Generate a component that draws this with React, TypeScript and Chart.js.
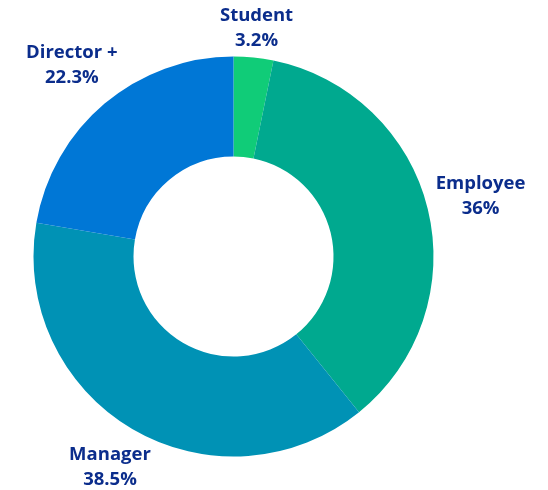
import React, { useEffect, useRef } from "react";
import { Chart, registerables } from "chart.js";

Chart.register(...registerables);

const categories = ["Student", "Employee", "Manager", "Director +"];
const values = [3.2, 36, 38.5, 22.3];
const valueLabels = ["3.2%", "36%", "38.5%", "22.3%"];
const colors = ["#10cc78", "#00a98f", "#0092b5", "#0077d6"];

const TEXT_COLOR = "#0b2d8c";
const FONT = "bold 18.5px 'Open Sans', sans-serif";
const LINE_H = 25;
const LABEL_OFFSET = 6;
const LABEL_HALF_H = 20;

const outsideLabels = {
  id: "outsideLabels",
  afterDatasetsDraw(chart: any) {
    const ctx = chart.ctx;
    const meta = chart.getDatasetMeta(0);
    ctx.save();
    ctx.font = FONT;
    ctx.fillStyle = TEXT_COLOR;
    ctx.textAlign = "center";
    ctx.textBaseline = "middle";
    meta.data.forEach((arc: any, i: number) => {
      const { x, y, startAngle, endAngle, outerRadius } = arc.getProps(
        ["x", "y", "startAngle", "endAngle", "outerRadius"],
        true
      );
      const mid = (startAngle + endAngle) / 2;
      const dx = Math.cos(mid);
      const dy = Math.sin(mid);
      const lines = [categories[i], valueLabels[i]];
      const w = Math.max(...lines.map((l) => ctx.measureText(l).width));
      const ext = Math.abs(dx) * (w / 2) + Math.abs(dy) * LABEL_HALF_H;
      const r = outerRadius + LABEL_OFFSET + ext;
      const cx = x + dx * r;
      const cy = y + dy * r;
      lines.forEach((l, k) => {
        ctx.fillText(l, cx, cy + (k - (lines.length - 1) / 2) * LINE_H);
      });
    });
    ctx.restore();
  },
};

export default function App() {
  const ref = useRef<HTMLCanvasElement>(null);
  useEffect(() => {
    if (!ref.current) return;
    const chart = new Chart(ref.current, {
      type: "doughnut",
      data: {
        labels: categories,
        datasets: [
          {
            data: values,
            backgroundColor: colors,
            borderWidth: 0,
          },
        ],
      },
      options: {
        animation: false,
        responsive: true,
        maintainAspectRatio: false,
        cutout: "50%",
        layout: { padding: { left: 25.5, right: 106.5, top: 48.5, bottom: 33.5 } },
        plugins: {
          legend: { display: false },
          tooltip: { enabled: false },
        },
      },
      plugins: [outsideLabels],
    });
    return () => chart.destroy();
  }, []);
  return (
    <div style={{ width: 532, height: 482, position: "relative" }}>
      <canvas ref={ref} />
    </div>
  );
}
